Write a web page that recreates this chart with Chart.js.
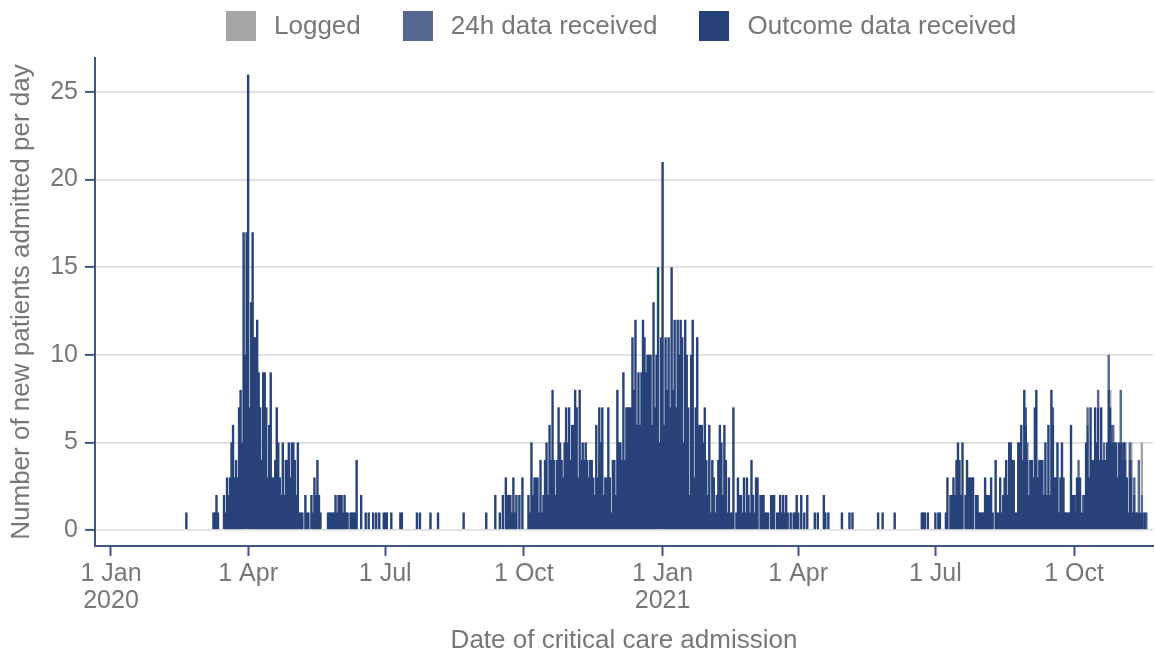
<!DOCTYPE html>
<html>
<head>
<meta charset="utf-8">
<script src="https://cdn.jsdelivr.net/npm/chart.js@4.4.1/dist/chart.umd.min.js"></script>
<style>
  body { margin: 0; background: #fff; }
  #wrap { position: relative; width: 1155px; height: 657px; }
  #chart { position: absolute; left: 0; top: 0; }
  #legend { position: absolute; left: 226px; top: 10px; display: flex; align-items: center;
    font: 26px "Liberation Sans", Arial, sans-serif; color: #777; }
  .item { display: flex; align-items: center; margin-right: 42px; }
  .box { width: 30px; height: 30px; margin-right: 18px; }
</style>
</head>
<body>
<div id="wrap">
  <canvas id="chart" width="1155" height="657"></canvas>
  <div id="legend"></div>
</div>
<script>
// days counted from 1 Jan 2020 (day 0)
var tickDays = [0, 91, 182, 274, 366, 456, 547, 639];
var tickLabels = [['1 Jan', '2020'], '1 Apr', '1 Jul', '1 Oct', ['1 Jan', '2021'], '1 Apr', '1 Jul', '1 Oct'];
var yTicks = [0, 5, 10, 15, 20, 25];

var seriesNames = ['Outcome data received', '24h data received', 'Logged'];
var seriesColors = ['#28427a', '#55678f', '#a6a6a6'];

// outcome data received: daily counts in runs
var wave1Start = 68;
var wave1 = [1,1,2,1,0,0,0,2,1,3, 2,3,5,6,3,4,3,7,8,5, 17,10,17,26,7,13,17,11,11,12,
  9,7,4,9,9,7,3,6,9,3, 3,4,7,5,
  3,2,5,2,4,4,5,3,5,5, 4,2,5,1,1,1,0,2,1,1, 0,2,1,3,2,4,2,1,0,0, 0,0,1,1,1,1,1,2,1,2,
  2,2,1,2,1,1,0,1,1,1, 1,4,0,0,2,0,0,1,0,1, 0,0,1,0,1,0,1,0,0,1, 1,1,0,0,1];

var wave2Start = 255;
var wave2 = [2,0,0,1,0,2,0,3,2,2, 2,1,3,1,2,0,2,0,3,0, 0,0,2,1,5,2,3,3,3,1, 4,1,2,4,5,2,6,4,8,4,
  2,4,7,5,4,3,5,7,5,7, 4,6,6,8,7,3,8,4,5,
  4,5,4,3,4,4,3,2,6,3, 7,5,7,2,3,3,7,3,1,4, 4,2,8,5,5,4,9,4,7,7, 7,7,11,8,12,6,9,6,9,12,
  11,9,10,10,10,6,13,7,10,15, 5,11,21,
  6,11,8,11,7,15,8,12,7,12, 10,12,11,5,12,10,7,2,10,12, 3,7,11,6,6,6,5,7,4,2,
  6,1,4,3,1,2,4,6,5,2, 6,4,1,3,1,1,7,0,1,3, 2,2,1,3,1,3,2,
  1,4,2,1,3,3,0,2,2,2, 1,1,1,0,2,2,2,0,1,1, 2,1,2,1,2,
  1,0,1,0,1,1,2,1,0,2, 0,1,0,2,0,0,0,0,1,0, 1,0,0,0,2,1,0,1];

var wave3Start = 554;
var wave3 = [1,3,0,2,2,3,2,4,5,4, 2,5,0,2,4,3,3,3,3,0, 2,2,1,1,1,1,3,2,2,2, 3,1,0,4,1,1,3,1,2,3,
  4,2,5,5,4,4,1,1,5,5, 6,4,8,6,4,2,4,4,3,7, 8,3,4,4,4,2,
  5,2,6,2,8,6,3,3,5,1, 3,5,3,1,1,1,1,6,2,2, 1,3,3,3,1,1,2,5,6,3,
  7,4,4,7,5,7,4,7,4,4, 4,5,8,7,5,5,5,5,3,5, 5,4,5,4,3,1,4,3,1,2, 1,1,1,1,1,0,1,0];

// single days between the waves
var sparseDays = [50, 192, 193, 203, 205, 212, 217, 234, 249, 485, 490, 492, 509, 512, 520, 538, 539, 540, 542, 547, 549, 550];
var sparseCounts = [1, 1, 1, 1, 1, 1, 1, 1, 1, 1, 1, 1, 1, 1, 1, 1, 1, 1, 1, 1, 1, 1];

// 24h data received and logged, recent weeks only
var h24Days = [607, 608, 625, 640, 642, 645, 648, 655, 659, 662, 664, 665, 670, 671, 673, 676, 677, 679, 682, 684, 685, 687];
var h24Counts = [1, 1, 1, 1, 1, 1, 1, 1, 1, 2, 1, 1, 3, 1, 1, 1, 1, 1, 3, 1, 1, 1];
var loggedDays = [663, 677, 684];
var loggedCounts = [1, 1, 3];

function addRun(points, start, counts) {
  counts.forEach(function (v, i) { if (v > 0) points.push({ x: start + i, y: v }); });
}
function addDays(points, days, counts) {
  days.forEach(function (d, i) { points.push({ x: d, y: counts[i] }); });
}

var outcome = [];
addRun(outcome, wave1Start, wave1);
addRun(outcome, wave2Start, wave2);
addRun(outcome, wave3Start, wave3);
addDays(outcome, sparseDays, sparseCounts);
outcome.sort(function (a, b) { return a.x - b.x; });

var h24 = [];
addDays(h24, h24Days, h24Counts);
var logged = [];
addDays(logged, loggedDays, loggedCounts);

var axisColor = '#3f5685';
var textColor = '#777777';
var tickFont = { family: '"Liberation Sans", Arial, sans-serif', size: 25, lineHeight: 1.1 };
var titleFont = { family: '"Liberation Sans", Arial, sans-serif', size: 26 };

var chart = new Chart(document.getElementById('chart'), {
  type: 'bar',
  data: {
    datasets: [outcome, h24, logged].map(function (d, i) {
      return {
        label: seriesNames[i],
        data: d,
        backgroundColor: seriesColors[i],
        borderWidth: 0,
        barPercentage: 1.6, // overlap so neighbouring days don't leave seams
        categoryPercentage: 1
      };
    })
  },
  options: {
    responsive: false,
    animation: false,
    devicePixelRatio: 1,
    layout: { padding: { top: 58, right: 2, left: 0, bottom: 0 } },
    plugins: { legend: { display: false }, tooltip: { enabled: false } },
    scales: {
      x: {
        type: 'linear',
        stacked: true,
        offset: false,
        min: -10.6,
        max: 691.4,
        afterBuildTicks: function (scale) {
          scale.ticks = tickDays.map(function (v) { return { value: v }; });
        },
        afterFit: function (scale) { scale.height = 111; },
        grid: { offset: false, drawOnChartArea: false, drawTicks: true, tickLength: 10, tickWidth: 2, tickColor: axisColor },
        border: { color: axisColor, width: 2 },
        ticks: {
          autoSkip: false, maxRotation: 0, padding: 4, color: textColor, font: tickFont,
          callback: function (v) {
            var i = tickDays.indexOf(v);
            return i < 0 ? null : tickLabels[i];
          }
        },
        title: {
          display: true, text: 'Date of critical care admission', color: textColor,
          font: titleFont, padding: { top: 0, bottom: 1 }
        }
      },
      y: {
        stacked: true,
        min: -0.913,
        max: 26.94,
        afterBuildTicks: function (scale) {
          scale.ticks = yTicks.map(function (v) { return { value: v }; });
        },
        afterFit: function (scale) { scale.width = 95; },
        grid: { color: '#dfdfdf', lineWidth: 1.8, tickLength: 10, tickWidth: 2, tickColor: axisColor },
        border: { color: axisColor, width: 2 },
        ticks: { padding: 7, color: textColor, font: tickFont },
        title: {
          display: true, text: 'Number of new patients admitted per day', color: textColor,
          font: titleFont, padding: { top: 6, bottom: 0 }
        }
      }
    }
  }
});

// legend in the same order as the reference: top of stack first
var legend = document.getElementById('legend');
chart.data.datasets.slice().reverse().forEach(function (ds) {
  var item = document.createElement('div');
  item.className = 'item';
  var box = document.createElement('span');
  box.className = 'box';
  box.style.background = ds.backgroundColor;
  var label = document.createElement('span');
  label.textContent = ds.label;
  item.appendChild(box);
  item.appendChild(label);
  legend.appendChild(item);
});
</script>
</body>
</html>
